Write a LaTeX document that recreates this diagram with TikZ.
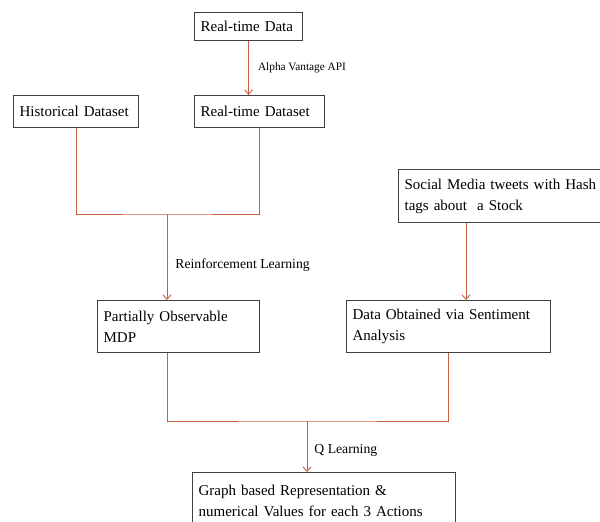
\documentclass[tikz,border=0pt]{standalone}
\usepackage{fontspec}
\setmainfont{Liberation Serif}
\usepackage{xcolor}
\usetikzlibrary{arrows.meta,positioning,calc}
\definecolor{linkred}{RGB}{200,95,62}

\begin{document}
\begin{tikzpicture}[
  x=1pt, y=-1pt, >={Straight Barb[length=4.5pt,width=8pt]},
  block/.style={draw=black!75, line width=1.2pt, fill=white, anchor=north west, align=left, inner xsep=6pt, inner ysep=0pt, font=\fontsize{15}{21}\selectfont},
  link/.style={draw=linkred, line width=0.9pt},
  arrow/.style={link, ->},
  lbl/.style={font=\fontsize{13.7}{15}\selectfont, inner sep=0pt, anchor=west}
]
\useasboundingbox (0,0) rectangle (600,522);

\node[block, text width=96pt, minimum height=28pt] (rtdata) at (194,12) {Real-time Data};
\node[block, text width=113pt, minimum height=32pt] (hist) at (13,95) {Historical Dataset};
\node[block, text width=118pt, minimum height=32pt] (rtds) at (194,95) {Real-time Dataset};
\node[block, text width=214pt, minimum height=53pt] (social) at (398,169) {Social Media tweets with Hash\\tags about~ a Stock};
\node[block, text width=150pt, minimum height=52pt] (pomdp) at (97,300) {Partially Observable\\MDP};
\node[block, text width=192pt, minimum height=52pt] (sent) at (346,300) {Data Obtained via Sentiment\\Analysis};
\node[block, text width=251pt, minimum height=56pt] (graph) at (192,472) {Graph based Representation \&\\numerical Values for each 3 Actions};

\coordinate (join1) at (167,214);
\coordinate (join2) at (307,421);

\draw[arrow] (rtdata.south) -- node[lbl, pos=0.5, xshift=9pt, font=\fontsize{11.3}{13}\selectfont] (api) {Alpha Vantage API} (rtdata.south |- rtds.north);
\draw[link] (hist.south) |- (join1) -| (rtds.south);
\draw[arrow] (join1) -- node[lbl, pos=0.6, xshift=8pt] (rl) {Reinforcement Learning} (join1 |- pomdp.north);
\draw[arrow] ([xshift=68pt]social.south west) -- ([xshift=68pt]social.south west |- sent.north);
\draw[link] ([xshift=70pt]pomdp.south west) |- (join2) -| (sent.south);
\draw[arrow] (join2) -- node[lbl, pos=0.57, xshift=7pt] (ql) {Q Learning} (join2 |- graph.north);

\end{tikzpicture}
\end{document}
